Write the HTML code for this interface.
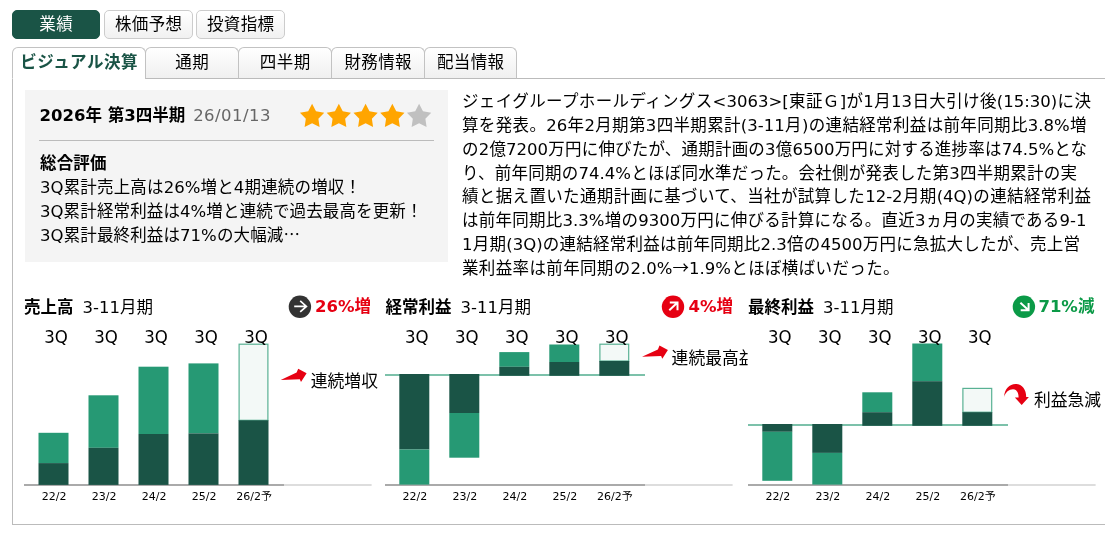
<!DOCTYPE html>
<html lang="ja">
<head>
<meta charset="utf-8">
<title>決算</title>
<style>
html,body{margin:0;padding:0;background:#fff;}
body{width:1116px;height:535px;position:relative;overflow:hidden;
 font-family:"DejaVu Sans","Liberation Sans","Noto Sans CJK JP",sans-serif;color:#000;font-size:16.5px;}
.abs{position:absolute;}
.btn{position:absolute;top:10px;height:29px;box-sizing:border-box;border:1px solid #ccc;border-radius:5px;
 background:linear-gradient(#fff,#f1f1f1);text-align:center;line-height:27px;font-size:16.5px;color:#000;white-space:nowrap;letter-spacing:0.4px;text-indent:0.4px;}
.btn.on{background:#1a5446;border-color:#1a5446;color:#fff;}
.tab{position:absolute;top:47px;height:32px;box-sizing:border-box;border:1px solid #c2c2c2;border-bottom:1px solid #bbb;
 border-radius:6px 6px 0 0;background:linear-gradient(#fff,#f0f0f0);text-align:center;line-height:29px;font-size:16.5px;white-space:nowrap;letter-spacing:0.4px;text-indent:0.4px;}
.tab.on{background:#fff;border-bottom-color:#fff;color:#1a5446;font-weight:bold;letter-spacing:0.6px;}
#panel{position:absolute;left:12px;top:78px;width:1093px;height:447px;box-sizing:border-box;border:1px solid #bbb;border-right:none;}
#gray{position:absolute;left:25px;top:90px;width:423px;height:172px;background:#f4f4f4;}
.jl{position:absolute;white-space:nowrap;text-align:justify;text-align-last:justify;}
.cj{font-family:"Noto Sans CJK JP",sans-serif;line-height:0;}
.hd{top:295.5px;line-height:24px;white-space:nowrap;font-size:16.5px;}
.hd .pr{margin-left:9px;}
.pc{top:294.6px;line-height:24px;white-space:nowrap;font-size:16.5px;font-weight:bold;}
</style>
</head>
<body>
<div id="panel"></div>
<div class="btn on" style="left:12px;width:88px;">業績</div>
<div class="btn" style="left:104px;width:89px;">株価予想</div>
<div class="btn" style="left:196px;width:89px;">投資指標</div>

<div class="tab on" style="left:12px;width:134px;">ビジュアル決算</div>
<div class="tab" style="left:145px;width:94px;">通期</div>
<div class="tab" style="left:238px;width:94px;">四半期</div>
<div class="tab" style="left:331px;width:94px;">財務情報</div>
<div class="tab" style="left:424px;width:93px;">配当情報</div>

<div id="gray"></div>
<div class="abs" id="ttl" style="left:39.5px;top:103.5px;line-height:24px;white-space:nowrap;"><b style="font-size:16.5px;">2026年 第3四半期</b><span style="color:#666;margin-left:8px;font-size:16.5px;letter-spacing:0.45px;">26/01/13</span></div>
<svg class="abs" style="left:0;top:0;" width="450" height="135" viewBox="0 0 450 135">
<polygon points="0.00,-12.75 3.88,-5.34 12.13,-3.94 6.28,2.04 7.49,10.31 0.00,6.60 -7.49,10.31 -6.28,2.04 -12.13,-3.94 -3.88,-5.34" transform="translate(312.10,116.6)" fill="#ffa500"/><polygon points="0.00,-12.75 3.88,-5.34 12.13,-3.94 6.28,2.04 7.49,10.31 0.00,6.60 -7.49,10.31 -6.28,2.04 -12.13,-3.94 -3.88,-5.34" transform="translate(338.85,116.6)" fill="#ffa500"/><polygon points="0.00,-12.75 3.88,-5.34 12.13,-3.94 6.28,2.04 7.49,10.31 0.00,6.60 -7.49,10.31 -6.28,2.04 -12.13,-3.94 -3.88,-5.34" transform="translate(365.60,116.6)" fill="#ffa500"/><polygon points="0.00,-12.75 3.88,-5.34 12.13,-3.94 6.28,2.04 7.49,10.31 0.00,6.60 -7.49,10.31 -6.28,2.04 -12.13,-3.94 -3.88,-5.34" transform="translate(392.35,116.6)" fill="#ffa500"/><polygon points="0.00,-12.75 3.88,-5.34 12.13,-3.94 6.28,2.04 7.49,10.31 0.00,6.60 -7.49,10.31 -6.28,2.04 -12.13,-3.94 -3.88,-5.34" transform="translate(419.10,116.6)" fill="#c0c0c0"/>
</svg>
<div class="abs" style="left:39px;top:140px;width:395px;height:1px;background:#bbb;"></div>
<div class="jl" style="left:40px;top:151.5px;line-height:24.6px;width:66.5px;font-weight:bold;">総合評価</div>
<div class="jl" style="left:40px;top:175.5px;line-height:24.6px;width:321px;">3Q累計売上高は26%増と4期連続の増収！</div>
<div class="jl" style="left:40px;top:199.8px;line-height:24.6px;width:382.5px;">3Q累計経常利益は4%増と連続で過去最高を更新！</div>
<div class="jl" style="left:40px;top:224px;line-height:24.6px;width:260px;">3Q累計最終利益は71%の大幅減<span class="cj">…</span></div>

<div id="para">
<div class="jl" style="left:462px;top:90.0px;width:629.0px;line-height:23.83px;">ジェイグループホールディングス&lt;3063&gt;[東証Ｇ]が1月13日大引け後(15:30)に決</div>
<div class="jl" style="left:462px;top:113.83px;width:624.5px;line-height:23.83px;">算を発表。26年2月期第3四半期累計(3-11月)の連結経常利益は前年同期比3.8%増</div>
<div class="jl" style="left:462px;top:137.66px;width:625.0px;line-height:23.83px;">の2億7200万円に伸びたが、通期計画の3億6500万円に対する進捗率は74.5%とな</div>
<div class="jl" style="left:462px;top:161.5px;width:615.0px;line-height:23.83px;">り、前年同期の74.4%とほぼ同水準だった。会社側が発表した第3四半期累計の実</div>
<div class="jl" style="left:462px;top:185.33px;width:629.0px;line-height:23.83px;">績と据え置いた通期計画に基づいて、当社が試算した12-2月期(4Q)の連結経常利益</div>
<div class="jl" style="left:462px;top:209.16px;width:624.5px;line-height:23.83px;">は前年同期比3.3%増の9300万円に伸びる計算になる。直近3ヵ月の実績である9-1</div>
<div class="jl" style="left:462px;top:233.0px;width:618.0px;line-height:23.83px;">1月期(3Q)の連結経常利益は前年同期比2.3倍の4500万円に急拡大したが、売上営</div>
<div class="jl" style="left:462px;top:256.83px;width:437.5px;line-height:23.83px;">業利益率は前年同期の2.0%<span class="cj">→</span>1.9%とほぼ横ばいだった。</div>
</div>





<!--CH-->
<div class="abs hd" style="left:24px;"><b>売上高</b><span class="pr">3-11月期</span></div>
<div class="abs hd" style="left:385.6px;"><b>経常利益</b><span class="pr">3-11月期</span></div>
<div class="abs hd" style="left:748px;"><b>最終利益</b><span class="pr">3-11月期</span></div>
<div class="abs pc" style="right:745px;color:#e60012;">26%増</div>
<div class="abs pc" style="right:383px;color:#e60012;">4%増</div>
<div class="abs pc" style="right:21.6px;color:#0b9a47;">71%減</div>
<svg id="charts" class="abs" style="left:0;top:0;" width="1116" height="535" viewBox="0 0 1116 535" font-family="&quot;DejaVu Sans&quot;,&quot;Liberation Sans&quot;,&quot;Noto Sans CJK JP&quot;,sans-serif" fill="#000">
<rect x="24.00" y="484.00" width="260.00" height="2.00" fill="#aaaaaa"/>
<rect x="284.00" y="484.00" width="87.60" height="2.00" fill="#dddddd"/>
<rect x="38.50" y="432.80" width="30.00" height="30.30" fill="#269974"/>
<rect x="38.50" y="463.10" width="30.00" height="21.80" fill="#1a5446"/>
<rect x="88.50" y="395.30" width="30.00" height="52.50" fill="#269974"/>
<rect x="88.50" y="447.80" width="30.00" height="37.10" fill="#1a5446"/>
<rect x="138.50" y="366.70" width="30.00" height="67.30" fill="#269974"/>
<rect x="138.50" y="434.00" width="30.00" height="50.90" fill="#1a5446"/>
<rect x="188.50" y="363.40" width="30.00" height="70.00" fill="#269974"/>
<rect x="188.50" y="433.40" width="30.00" height="51.50" fill="#1a5446"/>
<rect x="239.10" y="344.20" width="28.8" height="76.10" fill="#f3f9f7" stroke="#58b193" stroke-width="1.2"/>
<rect x="238.50" y="420.30" width="30.00" height="64.60" fill="#1a5446"/>
<text transform="translate(56.00,342.7) scale(1,1.08)" text-anchor="middle" font-size="16.6">3Q</text>
<text x="54.10" y="500" text-anchor="middle" font-size="11">22/2</text>
<text transform="translate(106.00,342.7) scale(1,1.08)" text-anchor="middle" font-size="16.6">3Q</text>
<text x="104.10" y="500" text-anchor="middle" font-size="11">23/2</text>
<text transform="translate(156.00,342.7) scale(1,1.08)" text-anchor="middle" font-size="16.6">3Q</text>
<text x="154.10" y="500" text-anchor="middle" font-size="11">24/2</text>
<text transform="translate(206.00,342.7) scale(1,1.08)" text-anchor="middle" font-size="16.6">3Q</text>
<text x="204.10" y="500" text-anchor="middle" font-size="11">25/2</text>
<text transform="translate(256.00,342.7) scale(1,1.08)" text-anchor="middle" font-size="16.6">3Q</text>
<text x="254.10" y="500" text-anchor="middle" font-size="11">26/2予</text>
<rect x="385.00" y="484.00" width="260.00" height="2.00" fill="#aaaaaa"/>
<rect x="645.00" y="484.00" width="87.60" height="2.00" fill="#dddddd"/>
<rect x="385.00" y="374.00" width="260.00" height="2.00" fill="#7cc1aa"/>
<rect x="399.30" y="374.00" width="30.00" height="75.50" fill="#1a5446"/>
<rect x="399.30" y="449.50" width="30.00" height="35.10" fill="#269974"/>
<rect x="449.30" y="374.00" width="30.00" height="39.00" fill="#1a5446"/>
<rect x="449.30" y="413.00" width="30.00" height="44.70" fill="#269974"/>
<rect x="499.30" y="352.10" width="30.00" height="14.70" fill="#269974"/>
<rect x="499.30" y="366.80" width="30.00" height="9.00" fill="#1a5446"/>
<rect x="549.30" y="344.50" width="30.00" height="17.50" fill="#269974"/>
<rect x="549.30" y="362.00" width="30.00" height="13.80" fill="#1a5446"/>
<rect x="599.90" y="344.20" width="28.8" height="16.80" fill="#f3f9f7" stroke="#58b193" stroke-width="1.2"/>
<rect x="599.30" y="361.00" width="30.00" height="14.80" fill="#1a5446"/>
<text transform="translate(416.80,342.7) scale(1,1.08)" text-anchor="middle" font-size="16.6">3Q</text>
<text x="414.90" y="500" text-anchor="middle" font-size="11">22/2</text>
<text transform="translate(466.80,342.7) scale(1,1.08)" text-anchor="middle" font-size="16.6">3Q</text>
<text x="464.90" y="500" text-anchor="middle" font-size="11">23/2</text>
<text transform="translate(516.80,342.7) scale(1,1.08)" text-anchor="middle" font-size="16.6">3Q</text>
<text x="514.90" y="500" text-anchor="middle" font-size="11">24/2</text>
<text transform="translate(566.80,342.7) scale(1,1.08)" text-anchor="middle" font-size="16.6">3Q</text>
<text x="564.90" y="500" text-anchor="middle" font-size="11">25/2</text>
<text transform="translate(616.80,342.7) scale(1,1.08)" text-anchor="middle" font-size="16.6">3Q</text>
<text x="614.90" y="500" text-anchor="middle" font-size="11">26/2予</text>
<rect x="748.00" y="484.00" width="260.00" height="2.00" fill="#aaaaaa"/>
<rect x="1008.00" y="484.00" width="87.60" height="2.00" fill="#dddddd"/>
<rect x="748.00" y="424.00" width="260.00" height="2.00" fill="#7cc1aa"/>
<rect x="762.30" y="424.00" width="30.00" height="7.80" fill="#1a5446"/>
<rect x="762.30" y="431.80" width="30.00" height="49.00" fill="#269974"/>
<rect x="812.30" y="424.00" width="30.00" height="28.90" fill="#1a5446"/>
<rect x="812.30" y="452.90" width="30.00" height="31.70" fill="#269974"/>
<rect x="862.30" y="392.30" width="30.00" height="19.90" fill="#269974"/>
<rect x="862.30" y="412.20" width="30.00" height="13.60" fill="#1a5446"/>
<rect x="912.30" y="343.50" width="30.00" height="37.70" fill="#269974"/>
<rect x="912.30" y="381.20" width="30.00" height="44.60" fill="#1a5446"/>
<rect x="962.90" y="388.40" width="28.8" height="23.80" fill="#f3f9f7" stroke="#58b193" stroke-width="1.2"/>
<rect x="962.30" y="412.20" width="30.00" height="13.60" fill="#1a5446"/>
<text transform="translate(779.80,342.7) scale(1,1.08)" text-anchor="middle" font-size="16.6">3Q</text>
<text x="777.90" y="500" text-anchor="middle" font-size="11">22/2</text>
<text transform="translate(829.80,342.7) scale(1,1.08)" text-anchor="middle" font-size="16.6">3Q</text>
<text x="827.90" y="500" text-anchor="middle" font-size="11">23/2</text>
<text transform="translate(879.80,342.7) scale(1,1.08)" text-anchor="middle" font-size="16.6">3Q</text>
<text x="877.90" y="500" text-anchor="middle" font-size="11">24/2</text>
<text transform="translate(929.80,342.7) scale(1,1.08)" text-anchor="middle" font-size="16.6">3Q</text>
<text x="927.90" y="500" text-anchor="middle" font-size="11">25/2</text>
<text transform="translate(979.80,342.7) scale(1,1.08)" text-anchor="middle" font-size="16.6">3Q</text>
<text x="977.90" y="500" text-anchor="middle" font-size="11">26/2予</text>
<path d="M280.7,379.9 L296.6,372.6 L298.2,368.8 L306.6,373.2 L301,382 L299.8,379.3 Z" fill="#e60012"/>
<path d="M280.7,379.9 L296.6,372.6 L298.2,368.8 L306.6,373.2 L301,382 L299.8,379.3 Z" fill="#e60012" transform="translate(361.3,-23.2)"/>
<path d="M1004.1,397 C1004.5,389 1009.5,384.1 1015.5,384.1 C1022,384.1 1026.2,389.5 1026.2,396.9 L1028.9,397 L1021.7,405.1 L1014.9,397.6 L1018.6,397.4 C1018.6,392.5 1016.5,389.2 1013,389.2 C1009,389.2 1005.5,392 1004.1,397 Z" fill="#e60012"/>
<text x="310.8" y="387" font-size="16.8">連続増収</text>
<clipPath id="cp2"><rect x="385" y="330" width="362.6" height="60"/></clipPath>
<text x="671.6" y="364" font-size="16.8" clip-path="url(#cp2)">連続最高益</text>
<text x="1034" y="406.4" font-size="16.8">利益急減</text>
<circle cx="299.9" cy="306.8" r="11.2" fill="#333"/>
<path d="M294.2,306.4 H306.2 M300.2,300.9 L306.4,306.4 L300.2,311.9" fill="none" stroke="#fff" stroke-width="1.7"/>
<circle cx="673" cy="306.8" r="11.2" fill="#e60012"/>
<path d="M669.3,310.3 L677.2,302.8 M669.8,302.6 H677.5 V310.3" fill="none" stroke="#fff" stroke-width="2"/>
<circle cx="1023.9" cy="306.8" r="11.2" fill="#0b9a47"/>
<path d="M1020.4,302.8 L1028.3,310 M1028.6,302.9 V310.2 H1020.7" fill="none" stroke="#fff" stroke-width="2"/>
</svg><!--/CH-->
</body>
</html>
